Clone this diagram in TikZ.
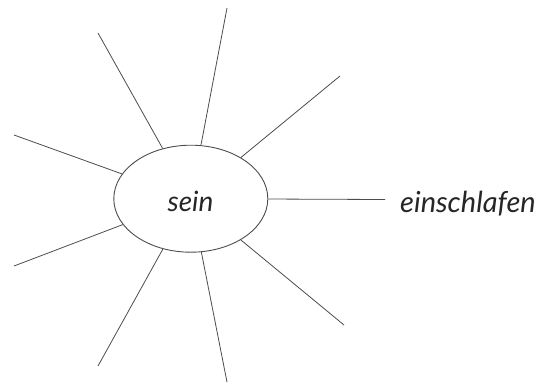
\documentclass[tikz,border=0pt]{standalone}
\usepackage{fontspec}
\setmainfont{Lato}
\usetikzlibrary{shapes.geometric}
\begin{document}
\begin{tikzpicture}[x=1pt,y=-1pt,
  ray/.style={draw=black!70,line width=0.8pt},
  hub/.style={draw=black!70,line width=0.9pt,ellipse,minimum width=154pt,minimum height=107pt,inner sep=0pt},
  word/.style={font=\itshape\fontsize{28}{30}\selectfont,text=black!85,inner sep=0pt}]
\useasboundingbox (0,0) rectangle (540,383);
\node[hub] (c) at (190.8,198.7) {};
\node[word,anchor=base] (s) at (190.5,211) {sein};
\node[word,anchor=base west,font=\itshape\fontsize{29}{31}\selectfont] (e) at (400,212) {einschlafen};
\coordinate (o1) at (98,33);
\coordinate (o2) at (227,8);
\coordinate (o3) at (340,76);
\coordinate (o4) at (385,199.5);
\coordinate (o5) at (344,325);
\coordinate (o6) at (227,382);
\coordinate (o7) at (98,366);
\coordinate (o8) at (14,266);
\coordinate (o9) at (14,135);
\foreach \i in {1,...,9} \draw[ray] (c) -- (o\i);
\end{tikzpicture}
\end{document}
